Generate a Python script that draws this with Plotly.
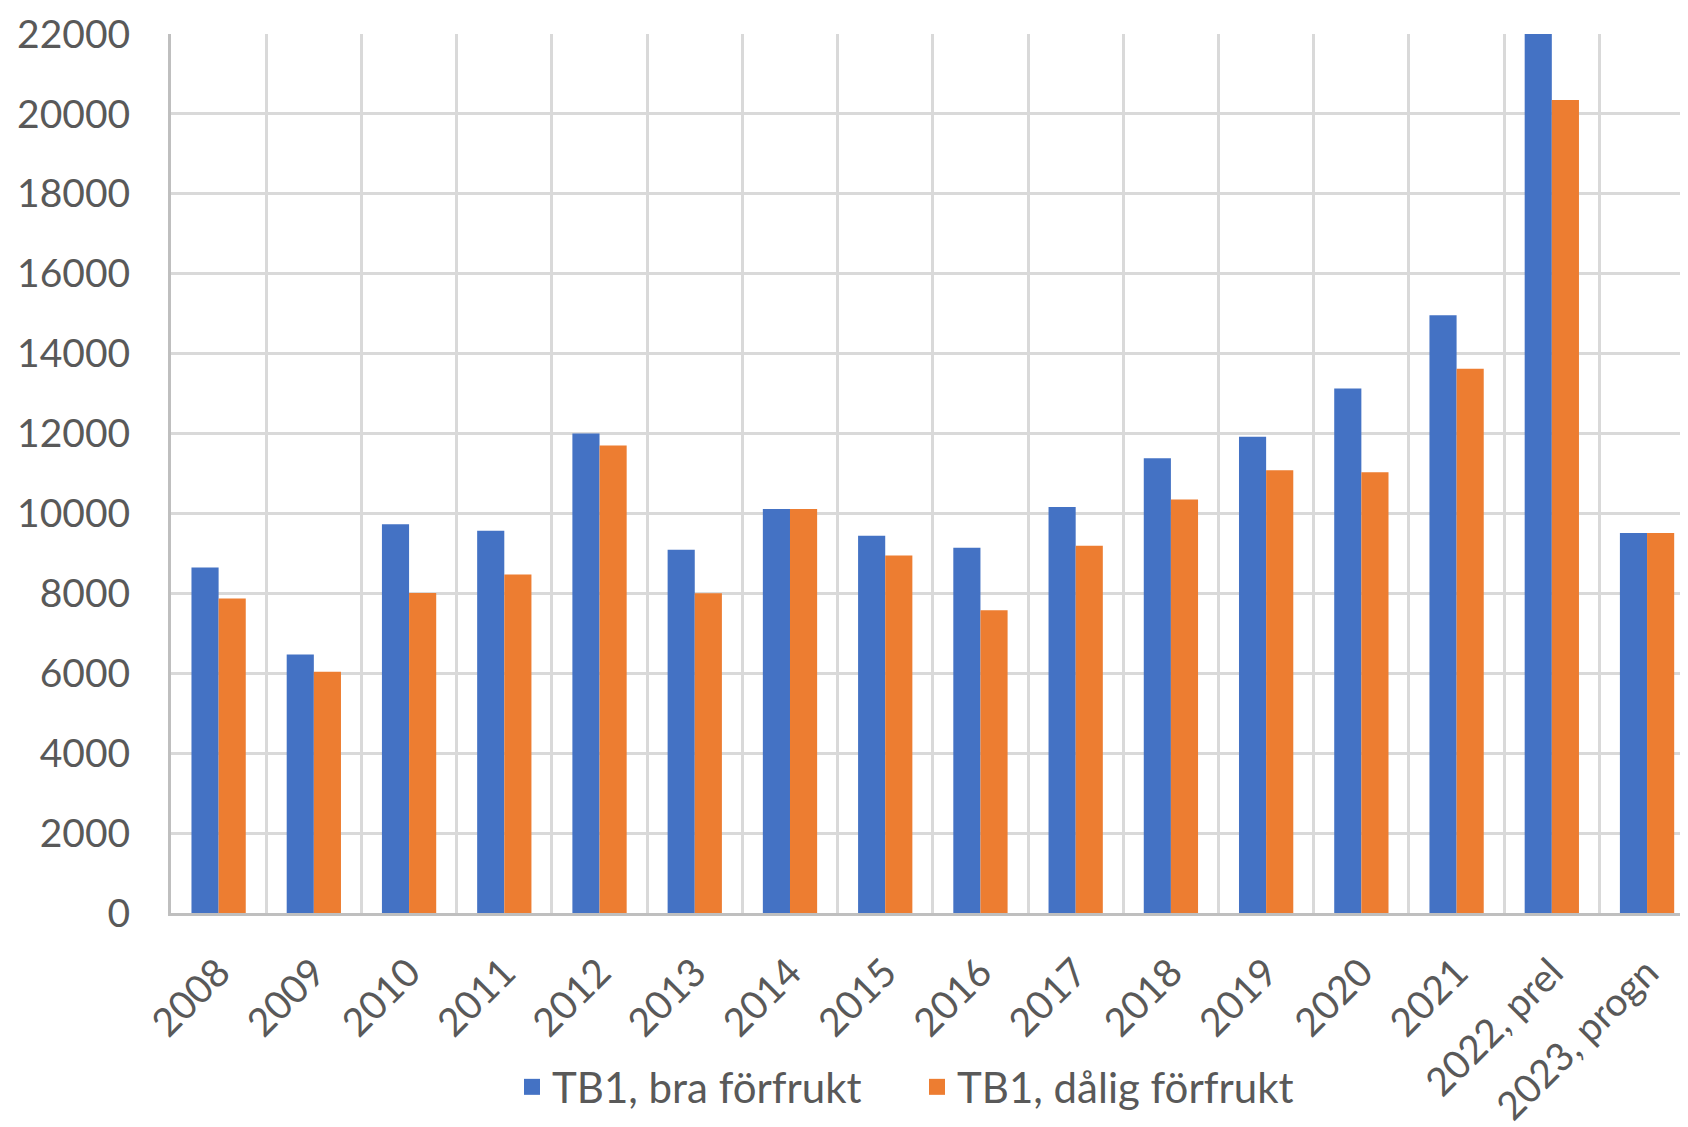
import plotly.graph_objects as go

categories = ["2008", "2009", "2010", "2011", "2012", "2013", "2014", "2015",
              "2016", "2017", "2018", "2019", "2020", "2021", "2022, prel", "2023, progn"]
bra = [8650, 6470, 9730, 9570, 12000, 9090, 10110, 9440,
       9140, 10160, 11380, 11920, 13130, 14960, 22000, 9510]
dalig = [7870, 6040, 8010, 8470, 11700, 8000, 10110, 8950,
         7580, 9190, 10350, 11080, 11030, 13620, 20350, 9510]
series_names = ["TB1, bra förfrukt", "TB1, dålig förfrukt"]
colors = ["#4472C4", "#ED7D31"]
y_ticks = list(range(0, 22001, 2000))

font_family = "Lato, 'Open Sans', sans-serif"
text_color = "#595959"

fig = go.Figure()
for vals, name, col in zip([bra, dalig], series_names, colors):
    fig.add_trace(go.Bar(x=categories, y=vals, name=name, marker_color=col,
                         marker_line_width=0, showlegend=False, legendgroup=name))
# legend entries with larger square symbols
for name, col in zip(series_names, colors):
    fig.add_trace(go.Scatter(x=[None], y=[None], mode="markers", name=name,
                             marker=dict(symbol="square", size=16, color=col),
                             legendgroup=name, showlegend=True))

fig.update_layout(
    width=1680, height=1119,
    margin=dict(l=163, r=0, t=26, b=214, autoexpand=False),
    paper_bgcolor="white", plot_bgcolor="white",
    barmode="group", bargap=0.43, bargroupgap=0,
    font=dict(family=font_family, color=text_color, size=39),
    showlegend=True,
    legend=dict(orientation="h", x=(510 - 169) / 1517, xanchor="left", y=-0.198, yanchor="middle",
                font=dict(size=42, color=text_color), itemwidth=30,
                entrywidth=360, entrywidthmode="pixels", tracegroupgap=0),
)
fig.update_xaxes(
    type="category", range=[-0.5, 15.43], tickson="boundaries", automargin=False,
    showgrid=True, gridcolor="#d9d9d9", gridwidth=3,
    showline=True, linecolor="#bfbfbf", linewidth=3,
    tickangle=-45, ticks="", tickfont=dict(size=39, color=text_color),
    ticklabelstandoff=18,
)
fig.update_yaxes(
    range=[0, 22000], tickvals=y_ticks, ticktext=[str(v) for v in y_ticks], automargin=False,
    showgrid=True, gridcolor="#d9d9d9", gridwidth=3,
    showline=True, linecolor="#bfbfbf", linewidth=3,
    zeroline=False, ticks="", tickfont=dict(size=39, color=text_color),
    ticklabelstandoff=30,
)

fig.write_html("out.html")
